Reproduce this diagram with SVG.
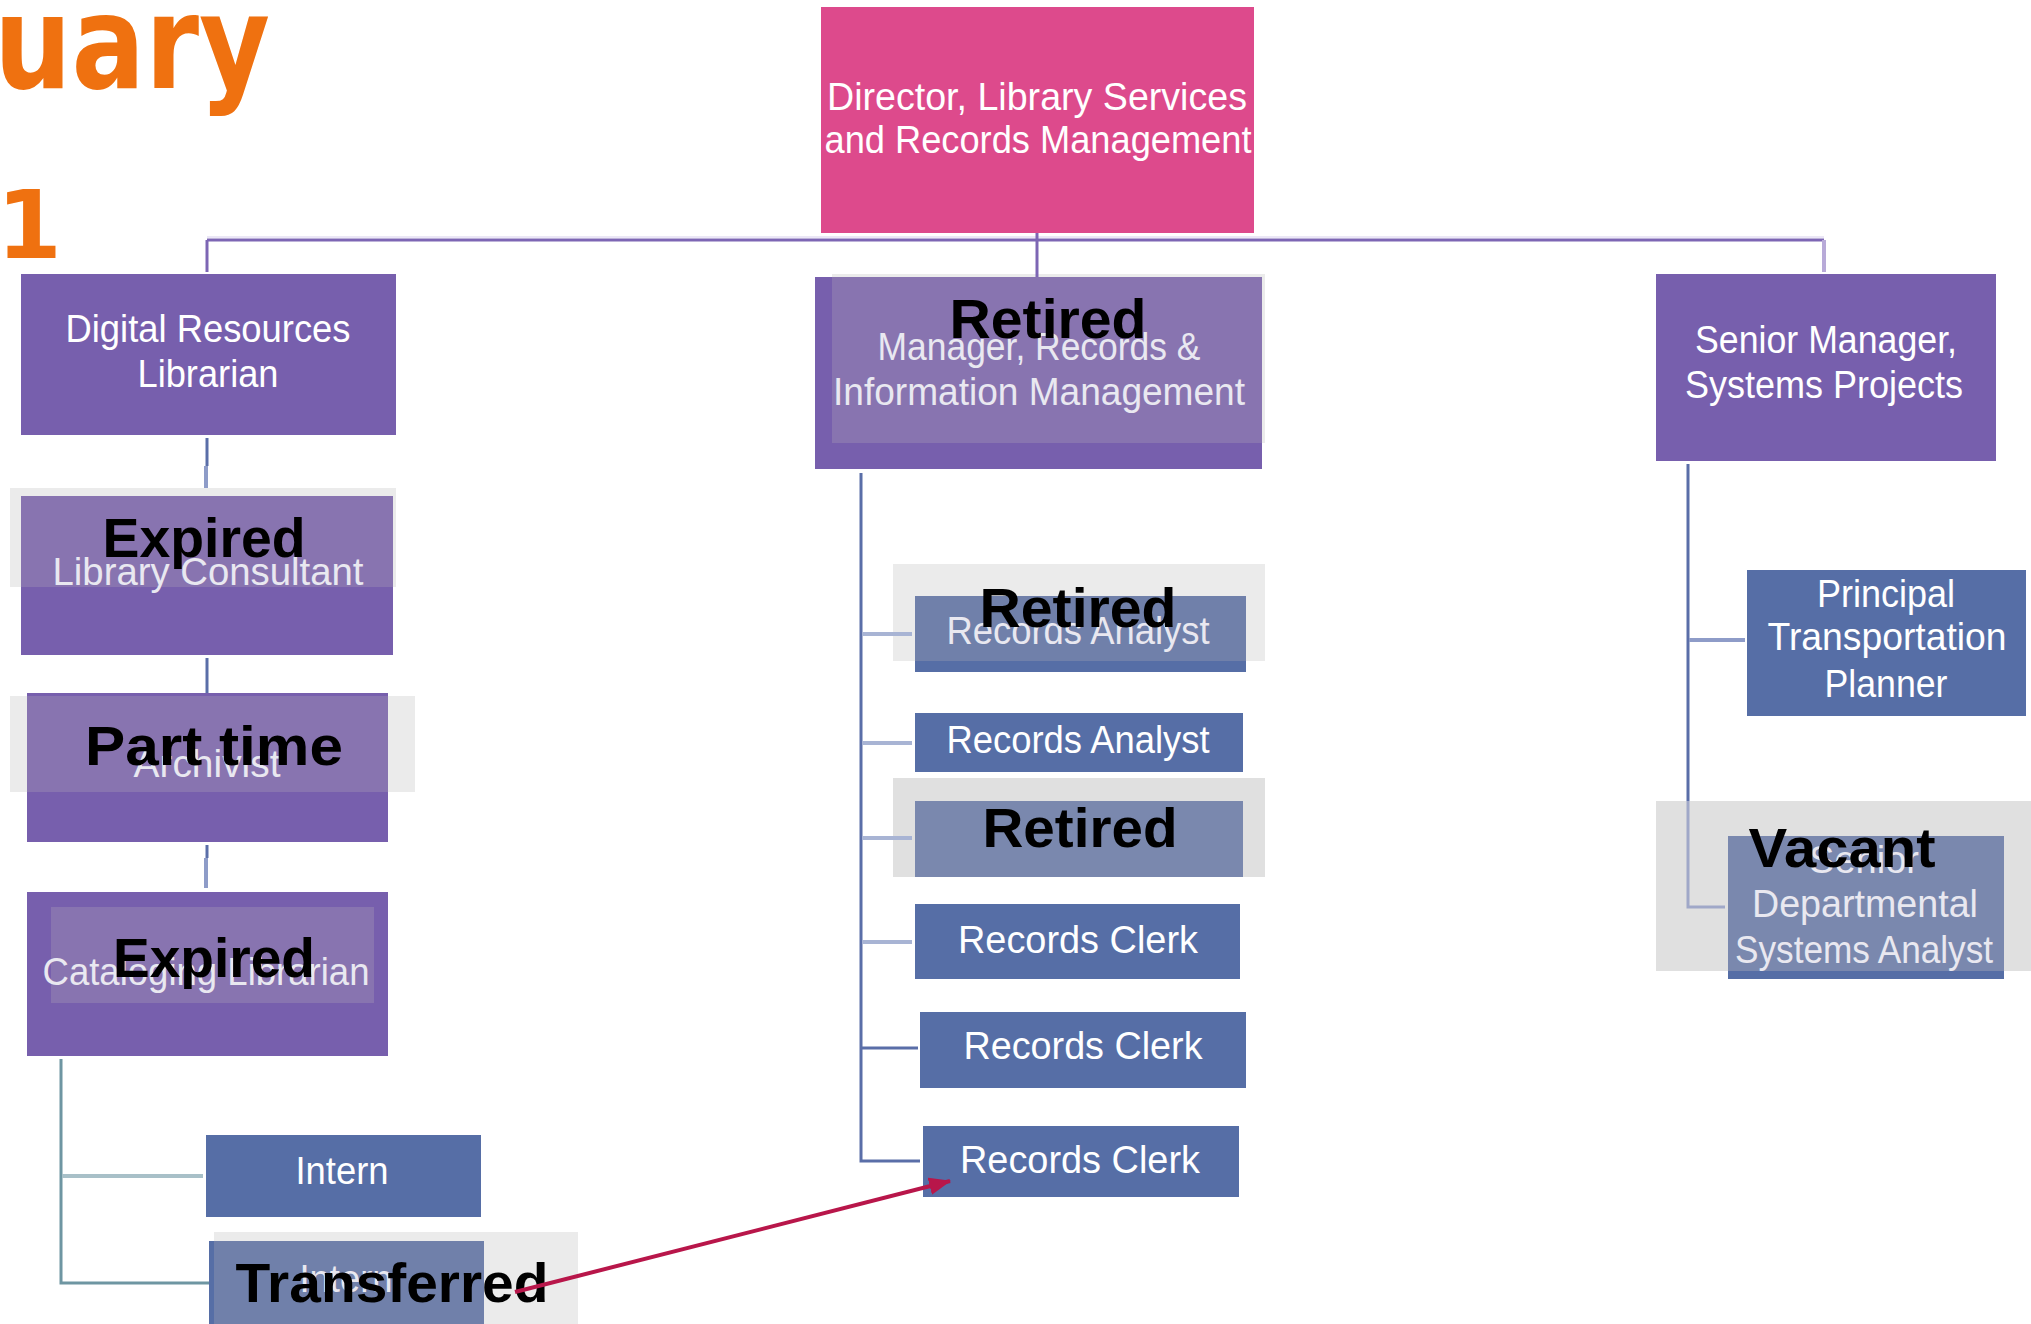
<svg xmlns="http://www.w3.org/2000/svg" width="2031" height="1324" viewBox="0 0 2031 1324">
<defs>
<style>
.bp{fill:#775fad}
.bpl{fill:#8874b0}
.bb{fill:#566ea6}
.bbl{fill:#7080aa}
.bbl2{fill:#7a88ae}
.gr{fill:#ebebeb}
.gr2{fill:#e0e0e0}
.w{fill:#ffffff;font-family:"Liberation Sans",Arial,sans-serif;font-size:38px;text-anchor:middle}
.wf{fill:#e9e8f0;font-family:"Liberation Sans",Arial,sans-serif;font-size:38px;text-anchor:middle}
.k{fill:#000000;font-family:"Liberation Sans",Arial,sans-serif;font-weight:bold;font-size:56px;text-anchor:middle}
.t{fill:#ef7110;font-family:"DejaVu Sans",Verdana,sans-serif;font-weight:bold}
.c{fill:none;stroke:#5a6ea8;stroke-width:3}
.cl{fill:none;stroke:#a8b4d4;stroke-width:4}
.cp{fill:none;stroke:#7d66b4;stroke-width:3}
</style>
<marker id="ah" viewBox="0 0 20 16" refX="19" refY="8" markerWidth="22" markerHeight="18" markerUnits="userSpaceOnUse" orient="auto">
<path d="M0,0 L20,8 L0,16 z" fill="#b8164a"/>
</marker>
</defs>

<g id="title">
<text class="t" x="-6" y="88" font-size="130" textLength="276" lengthAdjust="spacingAndGlyphs">uary</text>
<text class="t" x="62" y="258" font-size="94" text-anchor="end">1</text>
</g>

<g id="director">
<rect x="821" y="7" width="433" height="226" fill="#dd4a8c"/>
<text class="w" x="1037" y="110" textLength="420" lengthAdjust="spacingAndGlyphs">Director, Library Services</text>
<text class="w" x="1038" y="153" textLength="427" lengthAdjust="spacingAndGlyphs">and Records Management</text>
</g>

<g id="digital-resources-librarian">
<rect class="bp" x="21" y="274" width="375" height="161"/>
<text class="w" x="208" y="342" textLength="285" lengthAdjust="spacingAndGlyphs">Digital Resources</text>
<text class="w" x="208" y="387" textLength="141" lengthAdjust="spacingAndGlyphs">Librarian</text>
</g>

<g id="library-consultant">
<rect class="gr" x="10" y="488" width="386" height="99"/>
<rect class="bp" x="21" y="496" width="372" height="159"/>
<rect class="bpl" x="21" y="496" width="372" height="91"/>
<text class="wf" x="208" y="585" textLength="311" lengthAdjust="spacingAndGlyphs">Library Consultant</text>
<text class="k" x="204" y="557" textLength="203" lengthAdjust="spacingAndGlyphs">Expired</text>
</g>

<g id="archivist">
<rect class="gr" x="10" y="696" width="405" height="96"/>
<rect class="bp" x="27" y="693" width="361" height="149"/>
<rect class="bpl" x="27" y="696" width="361" height="96"/>
<text class="wf" x="207" y="777" textLength="147" lengthAdjust="spacingAndGlyphs">Archivist</text>
<text class="k" x="214" y="765" font-size="58" textLength="258" lengthAdjust="spacingAndGlyphs">Part time</text>
</g>

<g id="cataloging-librarian">
<rect class="bp" x="27" y="892" width="361" height="164"/>
<rect class="bpl" x="51" y="907" width="323" height="96"/>
<text class="wf" x="206" y="985" textLength="327" lengthAdjust="spacingAndGlyphs">Cataloging Librarian</text>
<text class="k" x="214" y="977" textLength="202" lengthAdjust="spacingAndGlyphs">Expired</text>
</g>

<g id="intern">
<rect class="bb" x="206" y="1135" width="275" height="82"/>
<text class="w" x="342" y="1184" textLength="93" lengthAdjust="spacingAndGlyphs">Intern</text>
</g>

<g id="intern-transferred">
<rect class="gr" x="214" y="1232" width="364" height="92"/>
<rect class="bb" x="209" y="1241" width="275" height="83"/>
<rect class="bbl" x="214" y="1241" width="270" height="83"/>
<text class="wf" x="346" y="1292" textLength="93" lengthAdjust="spacingAndGlyphs">Intern</text>
<text class="k" x="392" y="1302" textLength="313" lengthAdjust="spacingAndGlyphs">Transferred</text>
</g>

<g id="manager-records">
<rect class="gr" x="832" y="274" width="433" height="169"/>
<rect class="bp" x="815" y="277" width="447" height="192"/>
<rect class="bpl" x="832" y="277" width="430" height="166"/>
<text class="wf" x="1039" y="360" textLength="323" lengthAdjust="spacingAndGlyphs">Manager, Records &amp;</text>
<text class="wf" x="1039" y="405" textLength="412" lengthAdjust="spacingAndGlyphs">Information Management</text>
<text class="k" x="1048" y="338" textLength="197" lengthAdjust="spacingAndGlyphs">Retired</text>
</g>

<g id="records-analyst-retired">
<rect class="gr" x="893" y="564" width="372" height="97"/>
<rect class="bb" x="915" y="596" width="331" height="76"/>
<rect class="bbl" x="915" y="596" width="331" height="65"/>
<text class="wf" x="1078" y="644" textLength="263" lengthAdjust="spacingAndGlyphs">Records Analyst</text>
<text class="k" x="1078" y="627" textLength="197" lengthAdjust="spacingAndGlyphs">Retired</text>
</g>

<g id="records-analyst">
<rect class="bb" x="915" y="713" width="328" height="59"/>
<text class="w" x="1078" y="753" textLength="263" lengthAdjust="spacingAndGlyphs">Records Analyst</text>
</g>

<g id="retired-position">
<rect class="gr2" x="893" y="778" width="372" height="99"/>
<rect class="bbl2" x="915" y="801" width="328" height="76"/>
<text class="k" x="1080" y="847" textLength="195" lengthAdjust="spacingAndGlyphs">Retired</text>
</g>

<g id="records-clerk-1">
<rect class="bb" x="915" y="904" width="325" height="75"/>
<text class="w" x="1078" y="953" textLength="240" lengthAdjust="spacingAndGlyphs">Records Clerk</text>
</g>

<g id="records-clerk-2">
<rect class="bb" x="920" y="1012" width="326" height="76"/>
<text class="w" x="1083" y="1059" textLength="239" lengthAdjust="spacingAndGlyphs">Records Clerk</text>
</g>

<g id="records-clerk-3">
<rect class="bb" x="923" y="1126" width="316" height="71"/>
<text class="w" x="1080" y="1173" textLength="240" lengthAdjust="spacingAndGlyphs">Records Clerk</text>
</g>

<g id="senior-manager">
<rect class="bp" x="1656" y="274" width="340" height="187"/>
<text class="w" x="1826" y="353" textLength="262" lengthAdjust="spacingAndGlyphs">Senior Manager,</text>
<text class="w" x="1824" y="398" textLength="278" lengthAdjust="spacingAndGlyphs">Systems Projects</text>
</g>

<g id="principal-planner">
<rect class="bb" x="1747" y="570" width="279" height="146"/>
<text class="w" x="1886" y="607" textLength="138" lengthAdjust="spacingAndGlyphs">Principal</text>
<text class="w" x="1887" y="650" textLength="239" lengthAdjust="spacingAndGlyphs">Transportation</text>
<text class="w" x="1886" y="697" textLength="123" lengthAdjust="spacingAndGlyphs">Planner</text>
</g>

<g id="systems-analyst-vacant">
<rect class="gr2" x="1656" y="801" width="375" height="170"/>
<rect class="bb" x="1728" y="836" width="276" height="143"/>
<rect class="bbl2" x="1728" y="836" width="276" height="135"/>
<text class="wf" x="1864" y="873">Senior</text>
<text class="wf" x="1865" y="917" textLength="226" lengthAdjust="spacingAndGlyphs">Departmental</text>
<text class="wf" x="1864" y="963" textLength="258" lengthAdjust="spacingAndGlyphs">Systems Analyst</text>
<text class="k" x="1842" y="867" textLength="187" lengthAdjust="spacingAndGlyphs">Vacant</text>
</g>

<g id="connectors">
<line x1="207" y1="237" x2="1824" y2="237" stroke="#ebe7f6" stroke-width="2"/>
<line class="cp" x1="207" y1="240" x2="1824" y2="240"/>
<line class="cp" x1="207" y1="240" x2="207" y2="272"/>
<line class="cp" x1="1037" y1="233" x2="1037" y2="277"/>
<line x1="1824" y1="240" x2="1824" y2="272" stroke="#b8aad8" stroke-width="4"/>
<line class="c" x1="207" y1="438" x2="207" y2="466"/>
<line x1="206" y1="466" x2="206" y2="488" stroke="#8e9cc8" stroke-width="4"/>
<line class="c" x1="207" y1="658" x2="207" y2="693"/>
<line class="c" x1="207" y1="845" x2="207" y2="858"/>
<line x1="206" y1="858" x2="206" y2="888" stroke="#8e9cc8" stroke-width="4"/>
<path d="M61,1059 V1283 H209" fill="none" stroke="#6e96a2" stroke-width="3"/>
<line x1="62" y1="1176" x2="203" y2="1176" stroke="#a8c0c8" stroke-width="4"/>
<path class="c" d="M861,473 V1161 H920"/>
<line class="cl" x1="862" y1="634" x2="912" y2="634"/>
<line class="cl" x1="862" y1="743" x2="912" y2="743"/>
<line class="cl" x1="862" y1="838" x2="912" y2="838"/>
<line class="cl" x1="862" y1="942" x2="912" y2="942"/>
<line class="c" x1="862" y1="1048" x2="918" y2="1048"/>
<line class="c" x1="1688" y1="464" x2="1688" y2="801"/>
<path d="M1688,801 V907 H1725" fill="none" stroke="#a0a8c8" stroke-width="3"/>
<line x1="1689" y1="640" x2="1745" y2="640" stroke="#8e9cc8" stroke-width="4"/>
<line x1="515" y1="1292" x2="950" y2="1181" stroke="#b8164a" stroke-width="4" marker-end="url(#ah)"/>
</g>
</svg>
